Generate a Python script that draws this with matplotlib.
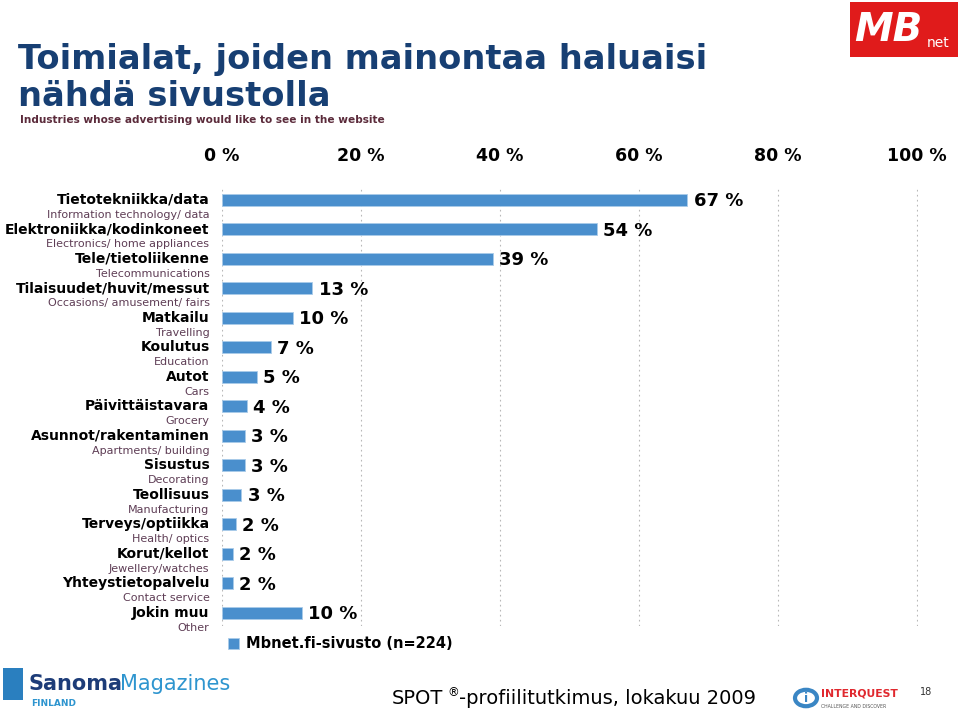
import matplotlib
matplotlib.use("Agg")
import matplotlib.pyplot as plt
from matplotlib.patches import Rectangle, Circle

# data
labels_fi = ["Tietotekniikka/data", "Elektroniikka/kodinkoneet", "Tele/tietoliikenne",
             "Tilaisuudet/huvit/messut", "Matkailu", "Koulutus", "Autot",
             "Päivittäistavara", "Asunnot/rakentaminen", "Sisustus", "Teollisuus",
             "Terveys/optiikka", "Korut/kellot", "Yhteystietopalvelu", "Jokin muu"]
labels_en = ["Information technology/ data", "Electronics/ home appliances",
             "Telecommunications", "Occasions/ amusement/ fairs", "Travelling",
             "Education", "Cars", "Grocery", "Apartments/ building", "Decorating",
             "Manufacturing", "Health/ optics", "Jewellery/watches",
             "Contact service", "Other"]
values = [67, 54, 39, 13, 10, 7, 5, 4, 3, 3, 3, 2, 2, 2, 10]
bar_len = [67, 54, 39, 13, 10.2, 7, 5, 3.6, 3.3, 3.3, 2.8, 2, 1.6, 1.6, 11.5]
x_ticks = [0, 20, 40, 60, 80, 100]
series_name = "Mbnet.fi-sivusto (n=224)"

W, H = 960, 717
BLUE = "#4a8fcd"
TITLE = "#173f73"
SUB = "#5b2b3b"
EN = "#5e3d55"

plt.rcParams["font.family"] = ["DejaVu Sans"]
fig = plt.figure(figsize=(W / 100, H / 100), dpi=100)
fig.patch.set_facecolor("white")


def fx(px):
    return px / W


def fy(py):
    return 1 - py / H


ax = fig.add_axes([fx(222), fy(626), fx(918) - fx(222), fy(186) - fy(626)])
rows = list(range(len(values)))
ax.barh(rows, bar_len, height=0.41, color=BLUE, edgecolor="#a9cbe9", linewidth=0.6,
        label=series_name, zorder=3)
ax.set_xlim(0, 100.2)
ax.set_ylim(14.45, -0.47)
ax.set_xticks(x_ticks)
ax.set_xticklabels([f"{t} %" for t in x_ticks], fontsize=12.5, fontweight="bold")
ax.xaxis.tick_top()
ax.tick_params(axis="x", length=0, pad=15)
ax.set_yticks([])
for s in ax.spines.values():
    s.set_visible(False)
ax.grid(axis="x", linestyle=(0, (1.5, 3)), color="#b8b8b8", linewidth=0.8, zorder=0)

for i, (fi, en, v, b) in enumerate(zip(labels_fi, labels_en, values, bar_len)):
    ax.annotate(fi, xy=(0, i), xycoords=("axes fraction", "data"),
                xytext=(-9, 0), textcoords="offset points", ha="right",
                va="center", fontsize=10, fontweight="bold", color="black")
    ax.annotate(en, xy=(0, i), xycoords=("axes fraction", "data"),
                xytext=(-9, -10.8), textcoords="offset points", ha="right",
                va="center", fontsize=8, color=EN)
    ax.annotate(f"{v} %", xy=(b, i), xycoords="data", xytext=(4.5, -1),
                textcoords="offset points", ha="left", va="center",
                fontsize=13, fontweight="bold")

leg = fig.legend(loc="center left", bbox_to_anchor=(fx(222), fy(644)), frameon=False,
                 handlelength=0.75, handleheight=0.75, handletextpad=0.5,
                 prop={"weight": "bold", "size": 10.5}, borderaxespad=0)

# title block
fig.text(fx(18), fy(60), "Toimialat, joiden mainontaa haluaisi", fontsize=24.2,
         fontweight="bold", color=TITLE, va="center", ha="left")
fig.text(fx(18), fy(96), "nähdä sivustolla", fontsize=24.2, fontweight="bold",
         color=TITLE, va="center", ha="left")
fig.text(fx(20), fy(120), "Industries whose advertising would like to see in the website",
         fontsize=7.6, fontweight="bold", color=SUB, va="center", ha="left")

# MBnet logo (top right)
fig.patches.append(Rectangle((fx(850), fy(57)), fx(958) - fx(850), fy(2) - fy(57),
                             transform=fig.transFigure, facecolor="#e01b1b",
                             edgecolor="none"))
fig.text(fx(854), fy(30), "MB", fontsize=28, fontweight="bold", style="italic",
         color="white", va="center", ha="left")
fig.text(fx(927), fy(43), "net", fontsize=10, color="white", va="center", ha="left")

fig.canvas.draw()
r = fig.canvas.get_renderer()

# Sanoma Magazines logo (bottom left)
fig.patches.append(Rectangle((fx(3), fy(700)), fx(20), fy(668) - fy(700),
                             transform=fig.transFigure, facecolor="#2a7fbf",
                             edgecolor="none"))
s1 = fig.text(fx(29), fy(684), "Sanoma", fontsize=15, fontweight="bold", color="#1d3c78",
              va="center", ha="left")
sb = s1.get_window_extent(renderer=r)
fig.text(sb.x1 / W - fx(3), fy(684), "Magazines", fontsize=15, color="#2e95cf",
         va="center", ha="left")
fig.text(fx(31), fy(703), "FINLAND", fontsize=6.5, fontweight="bold", color="#2e95cf",
         va="center", ha="left")

# footer text
t1 = fig.text(fx(392), fy(698), "SPOT", fontsize=14, va="center", ha="left")
bb = t1.get_window_extent(renderer=r)
t2 = fig.text(bb.x1 / W + fx(4), fy(693), "®", fontsize=8.5, va="center", ha="left")
bb2 = t2.get_window_extent(renderer=r)
fig.text(bb2.x1 / W, fy(698), "-profiilitutkimus, lokakuu 2009", fontsize=14,
         va="center", ha="left")

# Interquest logo
fig.patches.append(Circle((fx(806), fy(698)), fx(11), transform=fig.transFigure,
                          facecolor="white", edgecolor="#3a86c4", linewidth=3))
fig.text(fx(806), fy(698), "i", fontsize=9, fontweight="bold", color="#3a86c4",
         ha="center", va="center")
fig.text(fx(821), fy(694), "INTERQUEST", fontsize=7.8, fontweight="bold",
         color="#e0282e", ha="left", va="center")
fig.text(fx(821), fy(706), "CHALLENGE AND DISCOVER", fontsize=3.3, color="#555555",
         ha="left", va="center")
fig.text(fx(920), fy(692), "18", fontsize=7, color="#333333", ha="left", va="center")

fig.savefig("out.png", dpi=100)
